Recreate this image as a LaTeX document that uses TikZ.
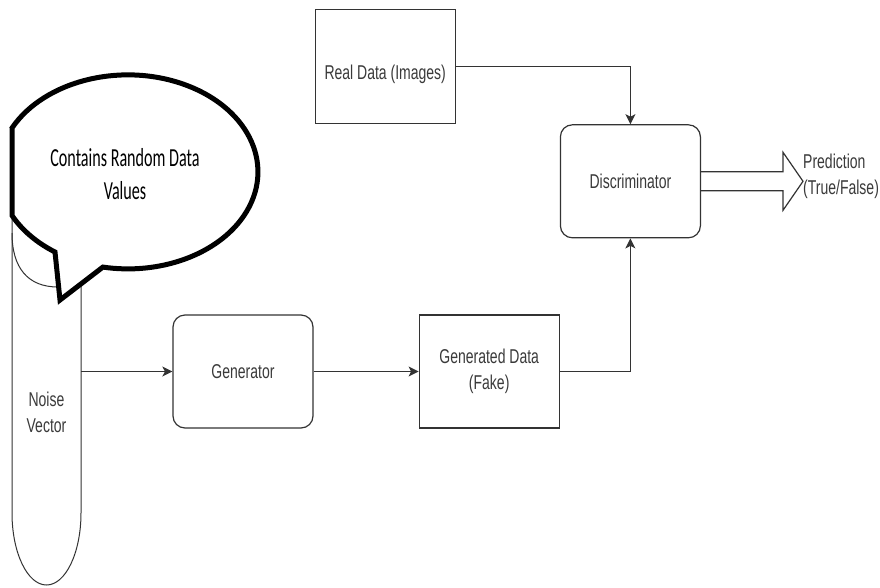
\documentclass[tikz,border=0pt]{standalone}
\usepackage{fontspec}
\setmainfont{Liberation Sans}
\newfontfamily\lblfont[FakeStretch=0.7]{Liberation Sans}
\newfontfamily\bubfont[FakeStretch=0.62]{Carlito}
\usepackage{tikz}
\usetikzlibrary{arrows.meta,positioning}
\definecolor{LineGray}{HTML}{333333}
\definecolor{TextGray}{HTML}{3A3A3A}
\tikzset{
  % Base box
  BX/.style={rectangle,minimum width=140pt,minimum height=113pt,
             align=center,draw=LineGray,line width=1.2pt,fill=white,
             text=TextGray,font=\lblfont\fontsize{20}{26}\selectfont},
  % Box variants
  sB/.style={BX},
  rB/.style={BX,rounded corners=12pt},
  % Plain label
  LB/.style={align=center,text=TextGray,font=\lblfont\fontsize{20}{26}\selectfont},
  % Arrows
  arr/.style={-{Stealth[length=10pt,width=10pt,inset=2.5pt]},line width=1.2pt,LineGray},
  fat/.style={line width=1.2pt,LineGray,line join=miter},
  % Callout
  bub/.style={line width=5pt,black,fill=white,line join=miter},
  thin/.style={line width=1pt,LineGray}
}
\begin{document}
\begin{tikzpicture}[x=1pt,y=-1pt]
  \path[use as bounding box,fill=white] (0,0) rectangle (880,587);
  % noise vector
  \draw[thin,fill=white] (12,140) -- (12,513)
    arc[start angle=180,end angle=0,x radius=34.5,y radius=72] -- (81,140);
  \node[LB,minimum width=69pt,inner sep=0pt] (noise) at (46.5,412) {Noise\\Vector};
  \draw[thin] (12,233) .. controls (12,268) and (28,287) .. (58,287);
  % callout
  \draw[bub] (12,128) arc[start angle=206.9,end angle=461.1,x radius=130,y radius=97]
    -- (60,300) -- (55,252)
    arc[start angle=124.2,end angle=153.1,x radius=130,y radius=97] -- cycle;
  \node[align=center,font=\bubfont\fontsize{26}{33}\selectfont] (note) at (125,174)
    {Contains Random Data\\Values};
  % chain
  \node[rB] (gen) at (243,371.5) {Generator};
  \node[sB,right=105pt of gen] (fake) {Generated Data\\(Fake)};
  \node[rB,above right=76pt and 0pt of fake.north east] (disc) {Discriminator};
  \node[sB,minimum height=114pt,above left=0pt and 104pt of disc.north west]
    (real) {\raisebox{-8pt}[\height][\depth]{Real Data (Images)}};
  \node[LB,align=left,anchor=west,right=102pt of disc.east,yshift=5pt,inner sep=0pt]
    (pred) {Prediction\\(True/False)};
  \draw[arr] (noise.east |- gen.west) -- (gen.west);
  \draw[arr] (gen.east) -- (fake.west);
  \draw[arr] (fake.east) -| (disc.south);
  \draw[arr] (real.east) -| (disc.north);
  \draw[fat] ([yshift=9.5pt]disc.east) -- ++(82,0) -- ++(0,-19.5)
    -- ([xshift=102pt]disc.east) -- ++(-20,29) -- ++(0,-19.5)
    -- ([yshift=-9.5pt]disc.east);
\end{tikzpicture}
\end{document}
